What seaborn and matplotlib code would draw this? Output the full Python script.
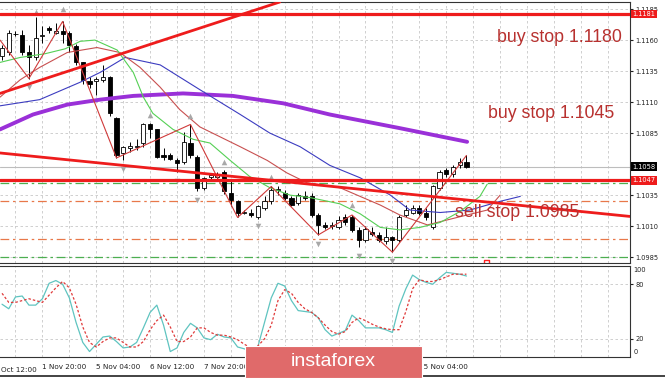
import numpy as np
import pandas as pd
import matplotlib
matplotlib.use("Agg")
import matplotlib.pyplot as plt
import matplotlib.transforms as mtransforms
from matplotlib.patches import Rectangle
import seaborn as sns

# EURUSD H4 candles
opens = [1.1147, 1.1150, 1.1165, 1.1164, 1.1150, 1.1146, 1.1163, 1.1170, 1.1166, 1.1167,
         1.1166, 1.1155, 1.1142, 1.1127, 1.1127, 1.1128, 1.1130, 1.1097, 1.1069, 1.1073,
         1.1074, 1.1077, 1.1092, 1.1088, 1.1067, 1.1067, 1.1063, 1.1062, 1.1077, 1.1066,
         1.1041, 1.1050, 1.1050, 1.1054, 1.1037, 1.1030, 1.1021, 1.1021, 1.1017, 1.1025,
         1.1030, 1.1039, 1.1037, 1.1033, 1.1029, 1.1034, 1.1034, 1.1019, 1.1011, 1.1010,
         1.1009, 1.1017, 1.1017, 1.1007, 1.0999, 1.1005, 1.1003, 1.0998, 1.1001, 1.0999,
         1.1019, 1.1021, 1.1025, 1.1021, 1.1009, 1.1041, 1.1055, 1.1052, 1.1059, 1.1062]
highs = [1.1156, 1.1168, 1.1167, 1.1168, 1.1156, 1.1179, 1.1171, 1.1171, 1.1174, 1.1175,
         1.1167, 1.1157, 1.1142, 1.1130, 1.1130, 1.1140, 1.1131, 1.1098, 1.1075, 1.1078,
         1.1080, 1.1093, 1.1093, 1.1088, 1.1073, 1.1069, 1.1065, 1.1086, 1.1092, 1.1067,
         1.1050, 1.1053, 1.1054, 1.1055, 1.1047, 1.1031, 1.1023, 1.1024, 1.1027, 1.1034,
         1.1042, 1.1042, 1.1039, 1.1034, 1.1037, 1.1038, 1.1037, 1.1021, 1.1013, 1.1013,
         1.1018, 1.1020, 1.1019, 1.1009, 1.1010, 1.1009, 1.1005, 1.1009, 1.1002, 1.1019,
         1.1027, 1.1027, 1.1027, 1.1025, 1.1043, 1.1055, 1.1057, 1.1059, 1.1065, 1.1067]
lows = [1.1144, 1.1148, 1.1163, 1.1148, 1.1129, 1.1144, 1.1158, 1.1166, 1.1165, 1.1158,
        1.1150, 1.1140, 1.1125, 1.1121, 1.1116, 1.1126, 1.1099, 1.1065, 1.1063, 1.1070,
        1.1071, 1.1074, 1.1081, 1.1065, 1.1063, 1.1063, 1.1054, 1.1060, 1.1065, 1.1038,
        1.1039, 1.1047, 1.1048, 1.1036, 1.1026, 1.1017, 1.1020, 1.1017, 1.1016, 1.1023,
        1.1028, 1.1035, 1.1031, 1.1026, 1.1027, 1.1031, 1.1017, 1.1003, 1.1008, 1.1008,
        1.1008, 1.1011, 1.1005, 1.0993, 1.0997, 1.1002, 1.0997, 1.0996, 1.0989, 1.0997,
        1.1017, 1.1020, 1.1019, 1.1015, 1.1008, 1.1039, 1.1050, 1.1050, 1.1057, 1.1057]
closes = [1.1154, 1.1166, 1.1165, 1.1150, 1.1146, 1.1162, 1.1164, 1.1168, 1.1167, 1.1165,
          1.1156, 1.1142, 1.1128, 1.1125, 1.1129, 1.1130, 1.1101, 1.1067, 1.1074, 1.1075,
          1.1075, 1.1092, 1.1088, 1.1066, 1.1066, 1.1064, 1.1061, 1.1078, 1.1067, 1.1041,
          1.1049, 1.1051, 1.1051, 1.1038, 1.1031, 1.1021, 1.1021, 1.1019, 1.1026, 1.1030,
          1.1039, 1.1040, 1.1033, 1.1027, 1.1035, 1.1033, 1.1019, 1.1011, 1.1009, 1.1011,
          1.1015, 1.1013, 1.1007, 1.0999, 1.1008, 1.1004, 1.0999, 1.1001, 1.0999, 1.1017,
          1.1023, 1.1025, 1.1021, 1.1017, 1.1042, 1.1054, 1.1052, 1.1058, 1.1062, 1.1058]

# moving averages, read as knots (bar index, price)
ma_slow_x = [-0.3, 4.6, 9.7, 14.6, 19.5, 26.9, 34.3, 41.8, 48.7, 59.1, 69.1]
ma_slow_y = [1.1088, 1.1100, 1.1108, 1.1112, 1.1115, 1.1117, 1.1115, 1.1109, 1.1100, 1.1089, 1.1078]
ma_blue_x = [-0.3, 5.6, 11.6, 14.6, 18.3, 23.5, 29.4, 35.4, 39.8, 44.3, 48.7, 53.2, 57.7, 60.6, 65.1, 69.5, 74.0, 77.0]
ma_blue_y = [1.1107, 1.1112, 1.1126, 1.1134, 1.1146, 1.1140, 1.1120, 1.1100, 1.1085, 1.1074, 1.1059, 1.1049,
             1.1035, 1.1023, 1.1021, 1.1023, 1.1030, 1.1034]
ma_green_x = [-0.3, 2.7, 6.4, 9.4, 11.6, 13.8, 17.1, 19.5, 21.0, 22.4, 25.4, 28.4, 30.9, 33.9, 36.8, 39.8,
              42.8, 45.8, 50.2, 53.2, 56.2, 59.1, 62.1, 65.1, 68.1, 71.0, 72.1]
ma_green_y = [1.1142, 1.1146, 1.1149, 1.1153, 1.1159, 1.1160, 1.1152, 1.1134, 1.1114, 1.1101, 1.1088, 1.1080,
              1.1077, 1.1063, 1.1050, 1.1041, 1.1035, 1.1033, 1.1028, 1.1020, 1.1009, 1.1007, 1.1009,
              1.1013, 1.1022, 1.1034, 1.1044]
ma_red_x = [-0.3, 2.7, 5.6, 9.7, 14.1, 17.5, 20.5, 23.5, 26.4, 29.4, 32.4, 35.4, 39.4, 42.3, 45.3, 50.2,
            56.2, 59.1, 63.2, 67.6, 72.1, 74.0]
ma_red_y = [1.1114, 1.1128, 1.1138, 1.1150, 1.1154, 1.1150, 1.1138, 1.1122, 1.1104, 1.1090, 1.1082, 1.1074,
            1.1063, 1.1053, 1.1045, 1.1041, 1.1027, 1.1019, 1.1011, 1.1017, 1.1023, 1.1035]

# zigzag pivots
zz_x = [-0.3, 4, 9, 17, 28, 35, 40, 47, 52, 58, 69]
zz_y = [1.1160, 1.1129, 1.1175, 1.1065, 1.1092, 1.1017, 1.1042, 1.1003, 1.1019, 1.0989, 1.1067]

# fractal arrows
frac_up_x = [5, 9, 22, 28, 33, 40, 52]
frac_up_y = [1.1183, 1.1185, 1.1100, 1.1099, 1.1062, 1.1050, 1.1027]
frac_dn_x = [4, 18, 26, 29, 38, 47, 53, 58]
frac_dn_y = [1.1122, 1.1056, 1.1046, 1.1031, 1.1010, 1.0996, 1.0986, 1.0982]

# drawn levels / trendlines
red_levels = [1.1181, 1.1047]
trend_up = [(-0.3, 1.1117), (42.0, 1.1192)]
trend_down = [(-0.3, 1.1069), (93.0, 1.1018)]
green_levels = [1.1045, 1.0985]
orange_levels = [1.1030, 1.1000]

# stochastic
stoch_main = [58, 53, 66, 67, 57, 57, 64, 81, 84, 80, 65, 38, 16, 6, 14, 22, 23, 17, 10, 11,
              16, 32, 49, 57, 35, 6, 10, 27, 37, 32, 21, 19, 25, 22, 21, 11, 9, 6, 11, 38,
              65, 81, 78, 62, 51, 50, 49, 43, 30, 23, 26, 29, 46, 40, 32, 32, 32, 30, 27, 56,
              75, 90, 85, 82, 80, 87, 93, 92, 91, 89]
stoch_signal = [70, 60, 60, 62, 64, 62, 60, 68, 76, 83, 76, 58, 33, 16, 11, 17, 21, 21, 16, 11,
                11, 17, 30, 40, 46, 33, 17, 17, 22, 32, 32, 27, 24, 24, 22, 19, 14, 10, 12, 20,
                35, 62, 74, 70, 60, 53, 49, 43, 35, 28, 25, 28, 38, 43, 40, 36, 33, 31, 30, 30,
                50, 75, 85, 83, 83, 85, 88, 91, 91, 91]

price_ticks = [1.0985, 1.1010, 1.1035, 1.1085, 1.1110, 1.1135, 1.1160, 1.1185]
# labels at 38..54 sit under the watermark in the reference
date_labels = {6: "1 Nov 20:00", 14: "5 Nov 04:00", 22: "6 Nov 12:00",
               30: "7 Nov 20:00", 62: "15 Nov 04:00"}

sns.set_style("white")
plt.rcParams['font.family'] = ['DejaVu Sans']

W, H = 665, 378
fig = plt.figure(figsize=(W / 100, H / 100), dpi=100)
ax = fig.add_axes([0, 1 - 263 / H, 630 / W, 261 / H])
ax2 = fig.add_axes([0, 1 - 357 / H, 630 / W, 91 / H])

XMIN, XMAX = -0.3, 93.3
grid_kw = dict(color="#c8c8c8", linestyle=(0, (3, 3)), linewidth=0.6)
ticks = np.arange(2, 94, 4)

# ---- candles
idx = np.arange(len(opens))
o, h, l, c = map(np.array, (opens, highs, lows, closes))
bull = c >= o
ax.vlines(idx, l, h, color="black", linewidth=0.7, zorder=3)
body = np.maximum(np.abs(c - o), 0.00003)
ax.bar(idx, body, bottom=np.minimum(o, c), width=0.62,
       color=np.where(bull, "white", "black"), edgecolor="black", linewidth=0.6, zorder=3)

# ---- moving averages
ma_sets = [(ma_slow_x, ma_slow_y, "#9a30d8", 2.8),
           (ma_blue_x, ma_blue_y, "#3c3cc0", 0.8),
           (ma_red_x, ma_red_y, "#c85050", 0.8),
           (ma_green_x, ma_green_y, "#55d055", 0.8)]
for xs, ys, col, lw in ma_sets:
    df = pd.DataFrame({"i": xs, "p": ys})
    sns.lineplot(data=df, x="i", y="p", ax=ax, color=col, linewidth=lw, estimator=None, zorder=4)

zz = pd.DataFrame({"i": zz_x, "p": zz_y})
sns.lineplot(data=zz, x="i", y="p", ax=ax, color="#d03a3a", linewidth=0.8, estimator=None, zorder=4)

ax.scatter(frac_up_x, frac_up_y, marker="^", s=16, color="#a8a8a8", zorder=4, linewidths=0)
ax.scatter(frac_dn_x, frac_dn_y, marker="v", s=16, color="#a8a8a8", zorder=4, linewidths=0)
ax.scatter([72], [1.0981], marker="s", s=14, facecolor="none", edgecolor="#ff2020", linewidth=1, zorder=4)

# ---- levels
for lv in green_levels:
    ax.axhline(lv, color="#4caf50", linewidth=0.9, linestyle=(0, (7, 3, 2, 3)), zorder=2)
for lv in orange_levels:
    ax.axhline(lv, color="#e8784a", linewidth=0.9, linestyle=(0, (7, 3, 2, 3)), zorder=2)
ax.axhline(closes[-1], color="#bdbdbd", linewidth=0.8, zorder=2)
for lv in red_levels:
    ax.axhline(lv, color="#ee1c1c", linewidth=2.3, zorder=5)
ax.axline(trend_up[0], trend_up[1], color="#ee1c1c", linewidth=2.0, zorder=5)
ax.axline(trend_down[0], trend_down[1], color="#ee1c1c", linewidth=2.0, zorder=5)

txt_kw = dict(color="#b8312f", fontsize=12.8, family=["Liberation Sans", "DejaVu Sans"], zorder=6, va="center")
ax.text(73.6, 1.1162, "buy stop 1.1180", **txt_kw)
ax.text(72.2, 1.1101, "buy stop 1.1045", **txt_kw)
ax.text(67.3, 1.1021, "sell stop 1.0985", **txt_kw)

# ---- main axis styling (ticks first, limits after so they are not widened)
ax.set_xticks(ticks)
ax.set_xticklabels([])
ax.set_yticks(price_ticks)
ax.set_yticklabels([f"{p:.4f}" for p in price_ticks])
ax.set_xlim(XMIN, XMAX)
ax.set_ylim(1.09803, 1.11907)
ax.yaxis.tick_right()
ax.tick_params(axis="y", labelsize=4.8, length=2, pad=2, colors="#222222")
ax.tick_params(axis="x", length=0)
ax.grid(True, **grid_kw)
ax.set_xlabel("")
ax.set_ylabel("")
ax.spines["left"].set_visible(False)
for side in ["top", "right", "bottom"]:
    ax.spines[side].set_color("#333333")
    ax.spines[side].set_linewidth(0.8)

trans = mtransforms.blended_transform_factory(ax.transAxes, ax.transData)
box_kw = dict(fontsize=4.8, color="white", va="center", ha="left", transform=trans, zorder=10, clip_on=False)
ax.text(1.004, red_levels[0], "1.1181", bbox=dict(facecolor="#ee1c1c", edgecolor="none", pad=1.0), **box_kw)
ax.text(1.004, red_levels[1], "1.1047", bbox=dict(facecolor="#ee1c1c", edgecolor="none", pad=1.0), **box_kw)
ax.text(1.004, closes[-1], "1.1058", bbox=dict(facecolor="black", edgecolor="none", pad=1.0), **box_kw)

# ---- stochastic panel
st = pd.DataFrame({"i": idx, "main": stoch_main, "signal": stoch_signal})
sns.lineplot(data=st, x="i", y="main", ax=ax2, color="#5fc4c0", linewidth=0.9, estimator=None)
sns.lineplot(data=st, x="i", y="signal", ax=ax2, color="#e03a3a", linewidth=0.9,
             linestyle=(0, (2, 1.6)), estimator=None)
ax2.set_yticks([20, 80])
ax2.set_yticklabels(["20", "80"])
ax2.set_xticks(ticks)
ax2.set_xticklabels([date_labels.get(t, "") for t in ticks], ha="left")
ax2.set_xlim(XMIN, XMAX)
ax2.set_ylim(0, 100)
ax2.yaxis.tick_right()
ax2.tick_params(axis="y", labelsize=4.8, length=2, pad=2, colors="#222222")
ax2.tick_params(axis="x", labelsize=5.2, length=2, pad=3, colors="#222222")
ax2.text(1.006, 0.99, "100", transform=ax2.transAxes, fontsize=4.8, va="top", color="#222222")
ax2.text(1.006, 0.02, "0", transform=ax2.transAxes, fontsize=4.8, va="bottom", color="#222222")
ax2.grid(True, **grid_kw)
ax2.set_xlabel("")
ax2.set_ylabel("")
ax2.spines["left"].set_visible(False)
for side in ["top", "right", "bottom"]:
    ax2.spines[side].set_color("#333333")
    ax2.spines[side].set_linewidth(0.8)
# first date label: only its visible part shows at the left edge
ax2.text(0.001, -0.105, "Oct 12:00", transform=ax2.transAxes,
         fontsize=5.2, va="top", ha="left", color="#222222")

# ---- frame line and watermark
fig.add_artist(plt.Line2D([0, 1], [1 - 376 / H, 1 - 376 / H], color="#222222", linewidth=1.2))
fig.add_artist(Rectangle((245 / W, 0), 177 / W, 32 / H, transform=fig.transFigure,
                         facecolor="#e06a6a", edgecolor="white", linewidth=0.8, zorder=20))
fig.text(333 / W, 1 - 362 / H, "instaforex", color="white", fontsize=14,
         family=["Liberation Sans", "DejaVu Sans"], ha="center", va="center", zorder=21)

fig.savefig("out.png", dpi=100)
